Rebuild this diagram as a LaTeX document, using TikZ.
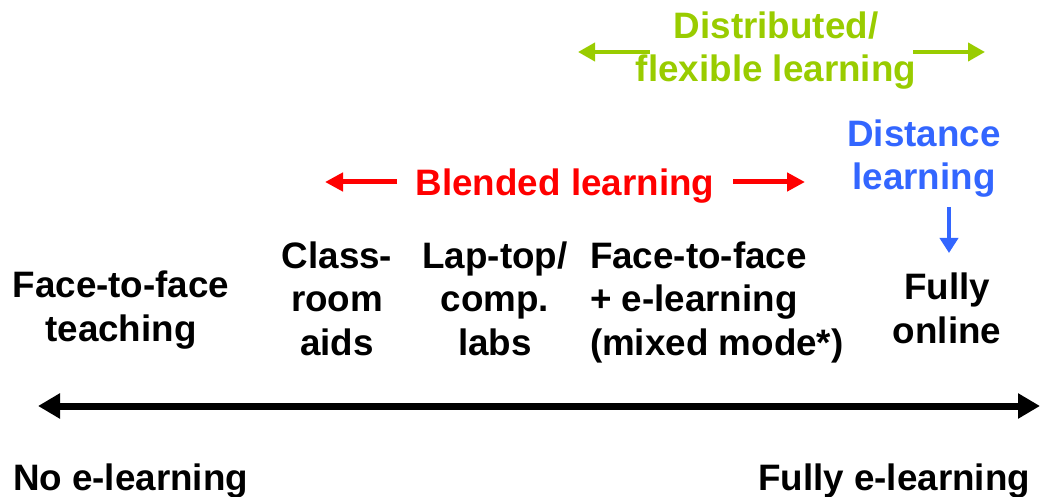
\documentclass[tikz,border=0pt]{standalone}
\usepackage{fontspec}
\setmainfont{Liberation Sans}
\usetikzlibrary{arrows.meta}
\definecolor{dgreen}{HTML}{99CC00}
\definecolor{dred}{HTML}{FF0000}
\definecolor{dblue}{HTML}{3366FF}
\begin{document}
\begin{tikzpicture}[x=1pt,y=1pt,
  lbl/.style={inner sep=0pt,outer sep=0pt,anchor=base,font=\fontsize{36.8}{43.5}\selectfont\bfseries,align=center},
  garrow/.style={dgreen,line width=4pt,-{Triangle[length=17pt,width=18pt]}},
  rarrow/.style={dred,line width=5pt,-{Triangle[length=18pt,width=18pt]}},
  barrow/.style={dblue,line width=4pt,-{Triangle[length=15pt,width=18pt]}},
  axis/.style={black,line width=7pt,{Triangle[length=22pt,width=24pt]}-{Triangle[length=22pt,width=24pt]}}]
\useasboundingbox (0,0) rectangle (1042,-497);
% green
\node[lbl,dgreen] (dist) at (776,-82) {Distributed/\\flexible learning};
\coordinate (gL0) at (650,-52); \coordinate (gL1) at (578,-52);
\coordinate (gR0) at (913,-52); \coordinate (gR1) at (985,-52);
\draw[garrow] (gL0) -- (gL1);
\draw[garrow] (gR0) -- (gR1);
% red
\node[lbl,dred] (blend) at (565,-196) {Blended learning};
\coordinate (rL0) at (397,-182); \coordinate (rL1) at (325,-182);
\coordinate (rR0) at (733,-182); \coordinate (rR1) at (805,-182);
\draw[rarrow] (rL0) -- (rL1);
\draw[rarrow] (rR0) -- (rR1);
% blue
\node[lbl,dblue] (distance) at (924,-190) {Distance\\learning};
\coordinate (b0) at (949,-207); \coordinate (b1) at (949,-253);
\draw[barrow] (b0) -- (b1);
% categories
\node[lbl] (f2f) at (121,-341) {Face-to-face\\teaching};
\node[lbl] (class) at (337,-355) {Class-\\room\\aids};
\node[lbl] (lap) at (495,-355) {Lap-top/\\comp.\\labs};
\node[lbl,anchor=base west,align=left] (mixed) at (590,-355) {Face-to-face\\+ e-learning\\(mixed mode*)};
\node[lbl] (fully) at (947,-343) {Fully\\online};
% axis
\coordinate (aL) at (38,-406); \coordinate (aR) at (1040,-406);
\draw[axis] (aL) -- (aR);
\node[lbl,anchor=base west] (noel) at (13,-490) {No e-learning};
\node[lbl,anchor=base east] (fullel) at (1030,-490) {Fully e-learning};
\end{tikzpicture}
\end{document}
